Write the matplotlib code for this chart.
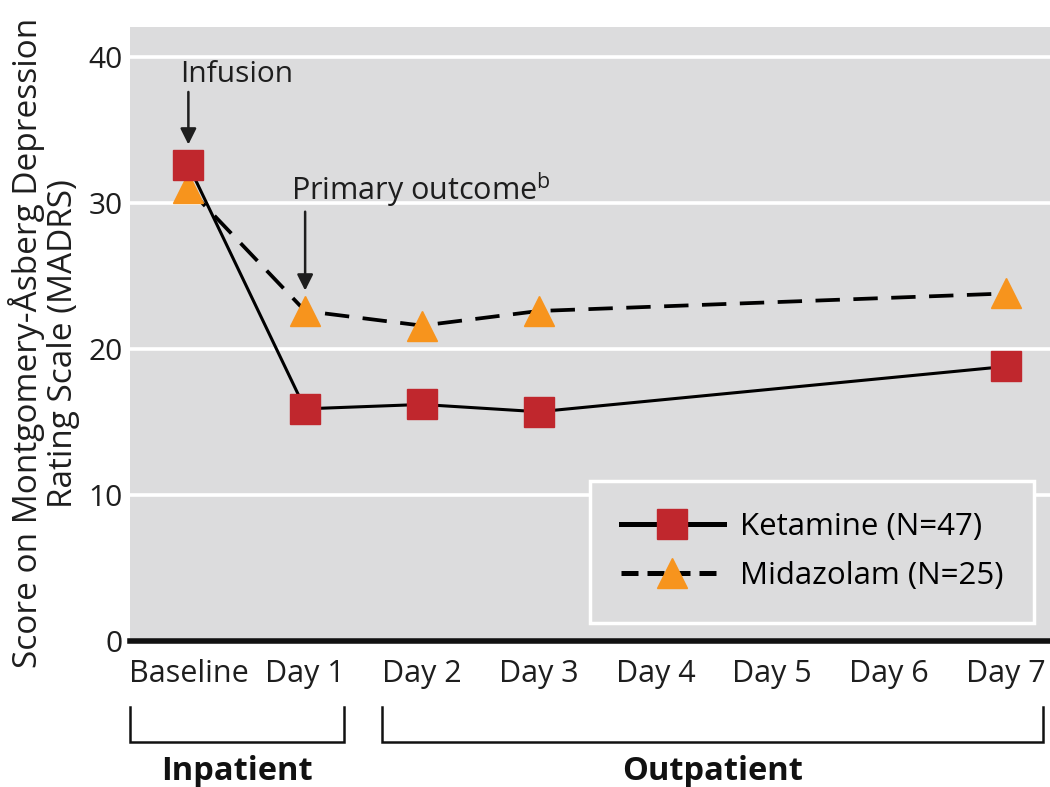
import matplotlib
matplotlib.use("Agg")
import matplotlib.pyplot as plt
from matplotlib.lines import Line2D

plt.rcParams['font.family'] = ['Open Sans', 'DejaVu Sans']

categories = ["Baseline", "Day 1", "Day 2", "Day 3", "Day 4", "Day 5", "Day 6", "Day 7"]
ket_x = [0, 1, 2, 3, 7]
ket_y = [32.6, 15.9, 16.2, 15.7, 18.8]
mid_x = [0, 1, 2, 3, 7]
mid_y = [31.0, 22.6, 21.6, 22.6, 23.8]
yticks = [0, 10, 20, 30, 40]

fig = plt.figure(figsize=(10.5, 7.87), dpi=100)
ax = fig.add_axes([130/1050, 1-641/787, 920/1050, 614/787])
bg = '#dcdcdd'
txt = '#1e1e1e'
ax.set_facecolor(bg)
ax.set_xlim(-0.5, 7.38)
ax.set_ylim(0, 42.05)
for s in ax.spines.values():
    s.set_visible(False)
for t in yticks[1:]:
    ax.axhline(t, color='white', lw=2.6, zorder=1)
ax.axhline(0, color='#111111', lw=4, zorder=2, clip_on=False)

red = '#c0272d'
orange = '#f7941d'
ax.plot(mid_x, mid_y, color='black', lw=2.7, dashes=(6.5, 3.6), marker='^',
        markersize=22, markerfacecolor=orange, markeredgecolor=orange, zorder=3)
ax.plot(ket_x, ket_y, color='black', lw=2.2, marker='s',
        markersize=21, markerfacecolor=red, markeredgecolor=red, zorder=4)

ax.set_xticks(range(len(categories)))
ax.set_xticklabels(categories, fontsize=22, color=txt)
ax.set_yticks(yticks)
ax.set_yticklabels([str(t) for t in yticks], fontsize=21.5, color=txt)
ax.tick_params(axis='both', length=0)
ax.tick_params(axis='x', pad=13)
ax.tick_params(axis='y', pad=5)

ax.set_ylabel("Score on Montgomery-Åsberg Depression\nRating Scale (MADRS)",
              fontsize=24, color=txt, linespacing=1.08)
ax.yaxis.set_label_coords(-0.054, 0.485)

arrow = dict(arrowstyle='-|>', color='#1e1e1e', lw=1.8, mutation_scale=24,
             shrinkA=0, shrinkB=0)
# annotations
ax.text(-0.07, 38.8, "Infusion", fontsize=21.5, color=txt, ha='left', va='center')
ax.annotate("", xy=(0, 34.0), xytext=(0, 37.6), arrowprops=arrow)
ax.text(0.88, 30.9, r"Primary outcome$^{\mathregular{b}}$", fontsize=22, color=txt,
        ha='left', va='center')
ax.annotate("", xy=(1, 24.0), xytext=(1, 29.4), arrowprops=arrow)

# legend
handles = [Line2D([0], [0], color='black', lw=3.6, marker='s', markersize=21,
                  markerfacecolor=red, markeredgecolor=red),
           Line2D([0], [0], color='black', lw=3.6, dashes=(3.4, 1.8), marker='^', markersize=22,
                  markerfacecolor=orange, markeredgecolor=orange)]
leg = ax.legend(handles, ['Ketamine (N=47)', 'Midazolam (N=25)'], loc='lower right',
                bbox_to_anchor=(0.983, 0.03), fontsize=22.5, frameon=True, fancybox=False,
                handlelength=3.3, borderpad=1.0, labelspacing=0.62, handletextpad=0.5,
                borderaxespad=0)
leg.get_frame().set_facecolor(bg)
leg.get_frame().set_edgecolor('white')
leg.get_frame().set_linewidth(2.5)
leg.get_frame().set_alpha(1)

# brackets
trans = ax.get_xaxis_transform()
y_top, y_bot = -0.107, -0.164
for x0, x1, lab in [(-0.5, 1.33, 'Inpatient'), (1.66, 7.32, 'Outpatient')]:
    ax.plot([x0, x0, x1, x1], [y_top, y_bot, y_bot, y_top], color='#111111', lw=1.8,
            transform=trans, clip_on=False, solid_joinstyle='miter')
    ax.text((x0 + x1) / 2, -0.212, lab, transform=trans, fontsize=23.5, fontweight='bold',
            ha='center', va='center', color='#111111')

fig.savefig('out.png', dpi=100)
